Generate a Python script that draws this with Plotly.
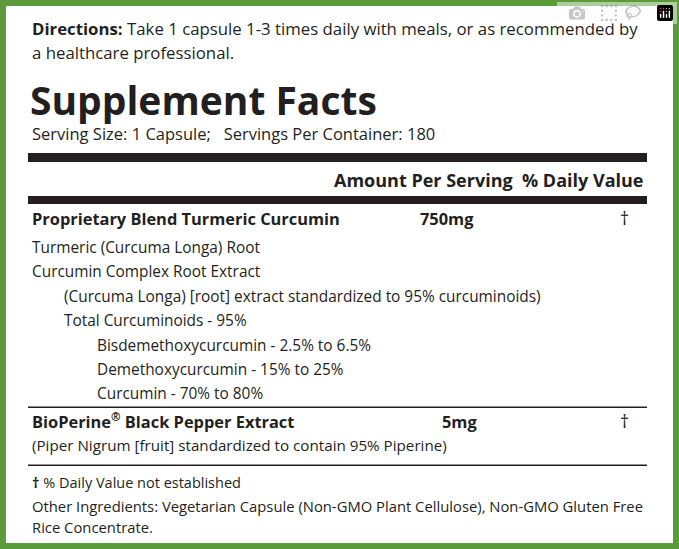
import plotly.graph_objects as go

FONT = "Open Sans, sans-serif"
GREEN = "#5b9b3c"
# text rows: (text, x, y, size, anchor)
rows = [
    ("<b>Directions:</b> Take 1 capsule 1-3 times daily with meals, or as recommended by", 30, 28, 16.8, "left"),
    ("a healthcare professional.", 30, 52, 16.8, "left"),
    ("<b>Supplement Facts</b>", 28, 99, 39, "left"),
    ("Serving Size: 1 Capsule;   Servings Per Container: 180", 30, 133, 16.5, "left"),
    ("<b>Amount Per Serving  % Daily Value</b>", 646, 180, 18, "right"),
    ("<b>Proprietary Blend Turmeric Curcumin</b>", 30, 218, 16.4, "left"),
    ("<b>750mg</b>", 418, 218, 16.4, "left"),
    ("†", 624, 218, 18, "center"),
    ("Turmeric (Curcuma Longa) Root", 30, 247, 15.4, "left"),
    ("Curcumin Complex Root Extract", 30, 271, 15.4, "left"),
    ("(Curcuma Longa) [root] extract standardized to 95% curcuminoids)", 62, 296, 15.4, "left"),
    ("Total Curcuminoids - 95%", 62, 320, 15.4, "left"),
    ("Bisdemethoxycurcumin - 2.5% to 6.5%", 95, 345, 15.4, "left"),
    ("Demethoxycurcumin - 15% to 25%", 95, 369, 15.4, "left"),
    ("Curcumin - 70% to 80%", 95, 393, 15.4, "left"),
    ("<b>BioPerine<sup>®</sup> Black Pepper Extract</b>", 30, 421, 16.4, "left"),
    ("<b>5mg</b>", 440, 421, 16.4, "left"),
    ("†", 624, 421, 18, "center"),
    ("(Piper Nigrum [fruit] standardized to contain 95% Piperine)", 30, 445, 15.2, "left"),
    ("<b>†</b> % Daily Value not established", 30, 482, 14.5, "left"),
    ("Other Ingredients: Vegetarian Capsule (Non-GMO Plant Cellulose), Non-GMO Gluten Free", 30, 506, 14.8, "left"),
    ("Rice Concentrate.", 30, 527, 14.8, "left"),
]
# rule lines: (y0, y1)
rules = [(153, 162), (196, 204), (406.5, 408), (464.5, 466)]

fig = go.Figure()
fig.add_trace(go.Scatter(x=[0], y=[0], mode="markers", marker=dict(opacity=0), hoverinfo="skip"))
shapes = [dict(type="rect", x0=3, y0=3, x1=676, y1=546, xref="x", yref="y",
               line=dict(color=GREEN, width=6), fillcolor="white", layer="below")]
for y0, y1 in rules:
    shapes.append(dict(type="rect", x0=28, x1=647, y0=y0, y1=y1, xref="x", yref="y",
                       line=dict(width=0), fillcolor="#231f20"))
ann = []
for t, x, y, s, a in rows:
    ann.append(dict(text=t, x=x, y=y, xref="x", yref="y", showarrow=False,
                    xanchor=a, yanchor="middle", font=dict(family=FONT, size=s, color="#231f20")))
fig.update_layout(width=679, height=549, margin=dict(l=0, r=0, t=0, b=0),
                  paper_bgcolor="white", plot_bgcolor="white", showlegend=False,
                  xaxis=dict(range=[0, 679], visible=False, fixedrange=True),
                  yaxis=dict(range=[549, 0], visible=False, fixedrange=True),
                  shapes=shapes, annotations=ann)
fig.write_html("out.html")
with open("out.html", encoding="utf-8") as f:
    html = f.read()
html = html.replace("<head>", "<head><style>html,body{margin:0;padding:0;overflow:hidden}</style>", 1)
with open("out.html", "w", encoding="utf-8") as f:
    f.write(html)
